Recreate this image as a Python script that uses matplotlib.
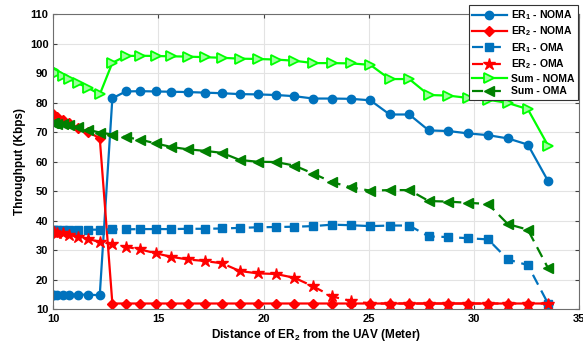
import numpy as np
import matplotlib
matplotlib.use("Agg")
import matplotlib.pyplot as plt

plt.rcParams['font.family'] = ['Liberation Sans', 'DejaVu Sans']
plt.rcParams['font.weight'] = 'bold'
plt.rcParams['mathtext.fontset'] = 'custom'
plt.rcParams['mathtext.rm'] = 'Liberation Sans:bold'
plt.rcParams['mathtext.it'] = 'Liberation Sans:bold'
plt.rcParams['mathtext.bf'] = 'Liberation Sans:bold'

# distance of ER2 from the UAV (m)
dist = [10.0, 10.05, 10.2, 10.44, 10.77, 11.18, 11.66, 12.21, 12.81, 13.45,
        14.14, 14.87, 15.62, 16.4, 17.2, 18.03, 18.87, 19.72, 20.59, 21.47,
        22.36, 23.26, 24.17, 25.08, 26.0, 26.93, 27.86, 28.79, 29.73, 30.68,
        31.62, 32.57, 33.53]

er1_noma = [15.0, 15.0, 15.0, 15.0, 15.0, 15.0, 15.0, 14.8, 81.5, 83.8,
            83.9, 83.8, 83.7, 83.6, 83.4, 83.2, 82.9, 82.8, 82.6, 82.2,
            81.4, 81.4, 81.3, 80.8, 76.0, 76.0, 70.6, 70.4, 69.6, 69.0,
            67.9, 65.8, 53.5]
er2_noma = [76.0, 75.6, 75.0, 74.2, 73.0, 71.5, 70.0, 68.0, 12.0, 12.0,
            12.0, 12.0, 12.0, 12.0, 12.0, 12.0, 12.0, 12.0, 12.0, 12.0,
            12.0, 12.0, 12.0, 12.0, 12.0, 12.0, 12.0, 12.0, 12.0, 12.0,
            12.0, 12.0, 12.0]
er1_oma = [36.8, 36.8, 36.9, 36.9, 37.0, 37.0, 37.0, 37.0, 37.1, 37.1,
           37.2, 37.2, 37.2, 37.3, 37.3, 37.4, 37.6, 37.8, 37.9, 38.0,
           38.2, 38.7, 38.5, 38.2, 38.4, 38.4, 34.7, 34.5, 34.1, 33.7,
           26.9, 25.0, 12.0]
er2_oma = [36.3, 36.2, 36.0, 35.8, 35.3, 34.6, 33.8, 32.9, 32.1, 31.2,
           30.3, 29.0, 27.8, 26.9, 26.4, 25.6, 23.0, 22.2, 22.0, 20.7,
           17.8, 14.4, 12.8, 12.0, 12.0, 12.0, 12.0, 12.0, 12.0, 12.0,
           12.0, 12.0, 12.0]
sum_noma = [91.0, 90.6, 90.0, 89.2, 88.0, 86.5, 85.0, 82.8, 93.5, 95.8,
            95.9, 95.8, 95.7, 95.6, 95.4, 95.2, 94.9, 94.8, 94.6, 94.2,
            93.4, 93.4, 93.3, 92.8, 88.0, 88.0, 82.6, 82.4, 81.6, 81.0,
            79.9, 77.8, 65.5]
sum_oma = [73.1, 73.0, 72.9, 72.7, 72.3, 71.6, 70.8, 69.9, 69.2, 68.3,
           67.5, 66.2, 65.0, 64.2, 63.7, 63.0, 60.6, 60.0, 59.9, 58.7,
           56.0, 53.1, 51.3, 50.2, 50.4, 50.4, 46.7, 46.5, 46.1, 45.7,
           38.9, 37.0, 24.0]

blue = '#0072BD'
dash = (0, (5, 3))

fig = plt.figure(figsize=(5.83, 3.52), dpi=100)
ax = fig.add_axes([0.0914, 0.121, 0.9016, 0.839])

ax.plot(dist, er1_noma, '-', color=blue, lw=1.6, marker='o', ms=6, label='ER$_1$ - NOMA')
ax.plot(dist, er2_noma, '-', color='red', lw=1.6, marker='D', ms=5.5, label='ER$_2$ - NOMA')
ax.plot(dist, er1_oma, color=blue, ls=dash, lw=1.6, marker='s', ms=5.5, label='ER$_1$ - OMA')
ax.plot(dist, er2_oma, color='red', ls=dash, lw=1.6, marker='*', ms=9, label='ER$_2$ - OMA')
ax.plot(dist, sum_noma, '-', color='#00FF00', lw=1.6, marker='>', ms=7,
        mfc='#9dff9d', mec='#00FF00', mew=1.3, label='Sum - NOMA')
ax.plot(dist, sum_oma, color='#008000', ls=dash, lw=1.6, marker='<', ms=7, label='Sum - OMA')

ax.set_xlim(10, 35)
ax.set_ylim(10, 110)
ax.set_xticks([10, 15, 20, 25, 30, 35])
ax.set_yticks(np.arange(10, 111, 10))
ax.grid(True, color='#e3e3e3', lw=0.8)
ax.tick_params(direction='in', top=True, right=True, labelsize=8, length=3,
               color='#404040')
for s in ax.spines.values():
    s.set_color('#6e6e6e')
    s.set_linewidth(0.8)

ax.set_xlabel('Distance of ER$_2$ from the UAV (Meter)', fontsize=8.5, fontweight='bold', labelpad=2)
ax.set_ylabel('Throughput (Kbps)', fontsize=8.5, fontweight='bold', labelpad=3)

leg = ax.legend(loc='upper right', bbox_to_anchor=(1.008, 1.05), fontsize=7.5,
                handlelength=3.3, framealpha=1, fancybox=False, borderpad=0.35,
                labelspacing=0.25, handletextpad=0.4)
leg.get_frame().set_edgecolor('#333333')
leg.get_frame().set_linewidth(0.8)

fig.savefig('out.png', dpi=100)
